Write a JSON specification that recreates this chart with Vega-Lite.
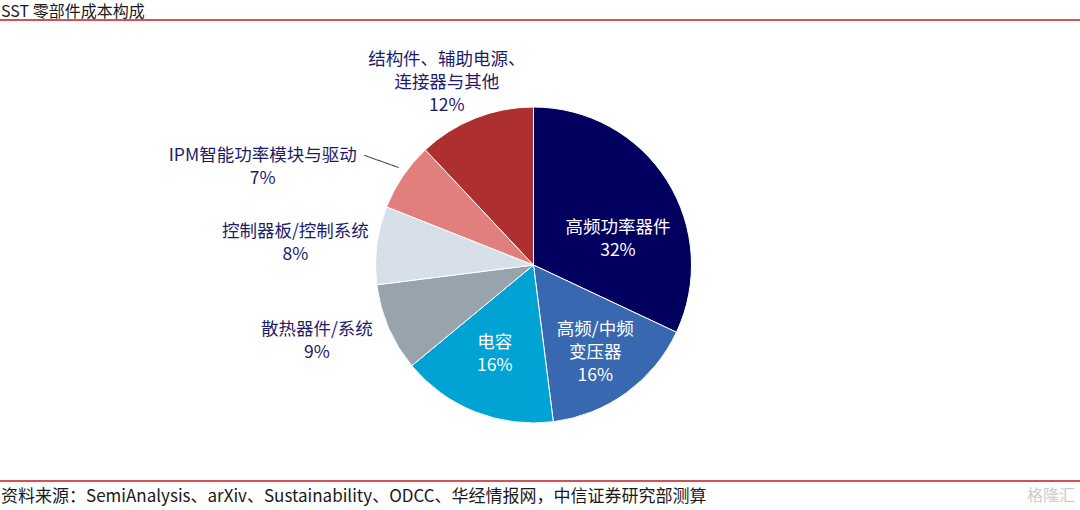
{
  "$schema": "https://vega.github.io/schema/vega-lite/v6.json",
  "autosize": {"type": "none"},
  "width": 1067,
  "height": 490,
  "padding": {"left": 0, "top": 20, "right": 13, "bottom": 0},
  "background": "white",
  "config": {
    "view": {"stroke": null},
    "text": {"font": "Noto Sans CJK SC", "lineBreak": "\n", "lineHeight": 23}
  },
  "datasets": {
    "parts": [
      {"idx": 1, "name": "高频功率器件", "value": 32, "label": "高频功率器件\n32%"},
      {"idx": 2, "name": "高频/中频变压器", "value": 16, "label": "高频/中频\n变压器\n16%"},
      {"idx": 3, "name": "电容", "value": 16, "label": "电容\n16%"},
      {"idx": 4, "name": "散热器件/系统", "value": 9, "label": "散热器件/系统\n9%"},
      {"idx": 5, "name": "控制器板/控制系统", "value": 8, "label": "控制器板/控制系统\n8%"},
      {"idx": 6, "name": "IPM智能功率模块与驱动", "value": 7, "label": "IPM智能功率模块与驱动\n7%"},
      {"idx": 7, "name": "结构件、辅助电源、连接器与其他", "value": 12, "label": "结构件、辅助电源、\n连接器与其他\n12%"}
    ]
  },
  "layer": [
    {
      "data": {"name": "parts"},
      "mark": {"type": "arc", "radius": 158, "stroke": "white", "strokeWidth": 1},
      "encoding": {
        "theta": {"field": "value", "type": "quantitative", "stack": true},
        "order": {"field": "idx", "type": "quantitative"},
        "color": {
          "field": "name", "type": "nominal", "legend": null,
          "scale": {
            "domain": ["高频功率器件", "高频/中频变压器", "电容", "散热器件/系统", "控制器板/控制系统", "IPM智能功率模块与驱动", "结构件、辅助电源、连接器与其他"],
            "range": ["#02005f", "#3868b0", "#00a3d3", "#97a4ae", "#d7e0e9", "#e07f7c", "#ae2f30"]
          }
        }
      }
    },
    {
      "data": {"name": "parts"},
      "mark": {"type": "text", "radius": 100, "dy": 17, "fontSize": 17.5, "color": "white", "align": "center", "baseline": "middle"},
      "encoding": {
        "theta": {"field": "value", "type": "quantitative", "stack": true},
        "order": {"field": "idx", "type": "quantitative"},
        "text": {"condition": {"test": "datum.idx === 1", "field": "label"}, "value": ""}
      }
    },
    {
      "data": {"name": "parts"},
      "mark": {"type": "text", "radius": 105, "dy": -20, "fontSize": 17.5, "color": "white", "align": "center", "baseline": "middle"},
      "encoding": {
        "theta": {"field": "value", "type": "quantitative", "stack": true},
        "order": {"field": "idx", "type": "quantitative"},
        "text": {"condition": {"test": "datum.idx === 2 || datum.idx === 3", "field": "label"}, "value": ""}
      }
    },
    {
      "data": {"name": "parts"},
      "mark": {"type": "text", "radius": 236, "dy": -29, "fontSize": 17.5, "color": "#1c1c6a", "align": "center", "baseline": "middle"},
      "encoding": {
        "theta": {"field": "value", "type": "quantitative", "stack": true},
        "order": {"field": "idx", "type": "quantitative"},
        "text": {"condition": {"test": "datum.idx === 4", "field": "label"}, "value": ""}
      }
    },
    {
      "data": {"name": "parts"},
      "mark": {"type": "text", "radius": 240, "dy": -3, "fontSize": 17.5, "color": "#1c1c6a", "align": "center", "baseline": "middle"},
      "encoding": {
        "theta": {"field": "value", "type": "quantitative", "stack": true},
        "order": {"field": "idx", "type": "quantitative"},
        "text": {"condition": {"test": "datum.idx === 5", "field": "label"}, "value": ""}
      }
    },
    {
      "data": {"name": "parts"},
      "mark": {"type": "text", "radius": 200, "dx": -13, "dy": -19, "fontSize": 17.5, "color": "#1c1c6a", "align": "center", "baseline": "middle"},
      "encoding": {
        "theta": {"field": "value", "type": "quantitative", "stack": true},
        "order": {"field": "idx", "type": "quantitative"},
        "text": {"condition": {"test": "datum.idx === 7", "field": "label"}, "value": ""}
      }
    },
    {
      "data": {"name": "parts"},
      "mark": {"type": "text", "radius": 215, "dx": -93, "dy": 12, "fontSize": 17.5, "color": "#1c1c6a", "align": "center", "baseline": "middle"},
      "encoding": {
        "theta": {"field": "value", "type": "quantitative", "stack": true},
        "order": {"field": "idx", "type": "quantitative"},
        "text": {"condition": {"test": "datum.idx === 6", "field": "label"}, "value": ""}
      }
    },
    {
      "data": {"name": "parts"},
      "mark": {"type": "text", "radius": 184, "angle": 20, "font": "DejaVu Sans", "fontSize": 12, "color": "#3d3d5c", "align": "center", "baseline": "middle"},
      "encoding": {
        "theta": {"field": "value", "type": "quantitative", "stack": true},
        "order": {"field": "idx", "type": "quantitative"},
        "text": {"condition": {"test": "datum.idx === 6", "value": "─────"}, "value": ""}
      }
    },
    {
      "data": {"values": [{}]},
      "mark": {"type": "rule", "color": "#c8161d", "strokeWidth": 1.5},
      "encoding": {"x": {"value": 0}, "x2": {"value": 1080}, "y": {"value": 0}}
    },
    {
      "data": {"values": [{}]},
      "mark": {"type": "rule", "color": "#c8161d", "strokeWidth": 1.5},
      "encoding": {"x": {"value": 0}, "x2": {"value": 1080}, "y": {"value": 461}}
    },
    {
      "data": {"values": [{}]},
      "mark": {"type": "text", "text": "SST 零部件成本构成", "fontSize": 16, "color": "#1a1a1a", "align": "left", "baseline": "middle"},
      "encoding": {"x": {"value": 1}, "y": {"value": -8}}
    },
    {
      "data": {"values": [{}]},
      "mark": {"type": "text", "text": "资料来源：SemiAnalysis、arXiv、Sustainability、ODCC、华经情报网，中信证券研究部测算", "fontSize": 17, "color": "#1a1a1a", "align": "left", "baseline": "middle"},
      "encoding": {"x": {"value": 1}, "y": {"value": 477}}
    },
    {
      "data": {"values": [{}]},
      "mark": {"type": "text", "text": "格隆汇", "fontSize": 16, "color": "#cccccc", "align": "right", "baseline": "middle"},
      "encoding": {"x": {"value": 1075}, "y": {"value": 476}}
    }
  ]
}
